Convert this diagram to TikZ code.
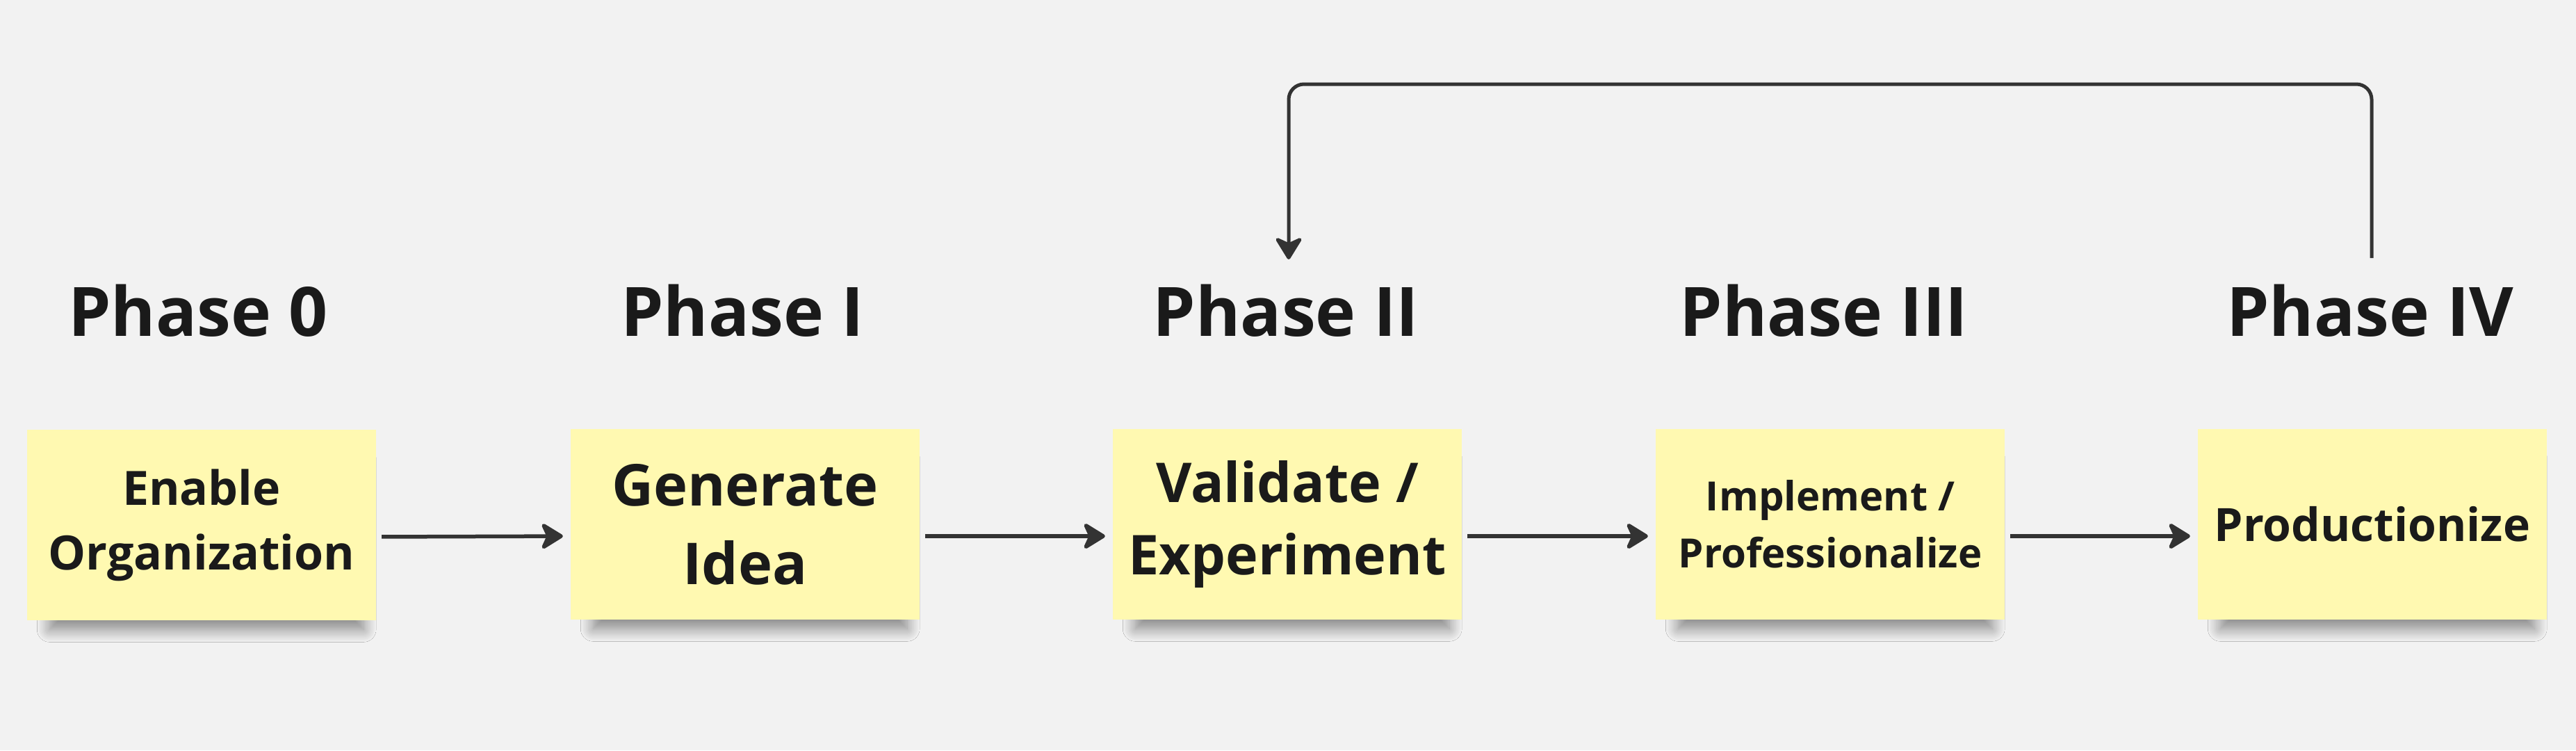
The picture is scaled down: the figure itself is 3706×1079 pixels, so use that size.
\documentclass[tikz,border=0pt]{standalone}
\usepackage{fontspec}
\setmainfont{Open Sans}
\usetikzlibrary{arrows.meta,shadows.blur}
\definecolor{bg}{HTML}{F2F2F2}
\definecolor{sticky}{HTML}{FFF9B1}
\definecolor{ink}{HTML}{1A1A1A}
\definecolor{linec}{HTML}{333333}
\tikzset{
  note/.style={fill=sticky, draw=none, minimum width=502pt, minimum height=274pt,
    inner sep=0pt, align=center, text=ink,
    blur shadow={shadow xshift=8pt, shadow yshift=-30pt, shadow scale=0.9,
      shadow blur radius=20pt, shadow opacity=45, shadow blur steps=16}},
  phase/.style={text=ink, font=\bfseries\fontsize{98}{118}\selectfont, inner sep=0pt, anchor=base},
  conn/.style={draw=linec, line width=5.5pt,
    -{Stealth[length=36pt, width=44pt, inset=10pt, round]}},
  fb/.style={draw=linec, line width=5pt, rounded corners=22pt,
    -{Stealth[length=36pt, width=44pt, inset=10pt, round]}}
}
\begin{document}
\begin{tikzpicture}[x=1pt, y=-1pt]
\useasboundingbox (0,0) rectangle (3706,1079);
\fill[bg] (0,0) rectangle (3706,1079);

% sticky notes
\node[note, font=\bfseries\fontsize{68}{93}\selectfont] (s0) at (290,755) {Enable\\Organization};
\node[note, font=\bfseries\fontsize{83}{113}\selectfont] (s1) at (1072,754) {Generate\\Idea};
\node[note, font=\bfseries\fontsize{79}{104}\selectfont] (s2) at (1852,754) {Validate /\\Experiment};
\node[note, font=\bfseries\fontsize{58}{82}\selectfont] (s3) at (2633,754) {Implement /\\Professionalize};
\node[note, font=\bfseries\fontsize{66}{80}\selectfont] (s4) at (3413,754) {Productionize};

% phase titles
\node[phase] (p0) at (285,483) {Phase 0};
\node[phase] (p1) at (1068,483) {Phase I};
\node[phase] (p2) at (1850,483) {Phase II};
\node[phase] (p3) at (2624,483) {Phase III};
\node[phase] (p4) at (3410,483) {Phase IV};

% connectors
\draw[conn, shorten <=8pt, shorten >=11pt] ([yshift=-17pt]s0.east) -- ([yshift=-17pt]s1.west);
\draw[conn, shorten <=8pt, shorten >=11pt] ([yshift=-17pt]s1.east) -- ([yshift=-17pt]s2.west);
\draw[conn, shorten <=8pt, shorten >=11pt] ([yshift=-17pt]s2.east) -- ([yshift=-17pt]s3.west);
\draw[conn, shorten <=8pt, shorten >=11pt] ([yshift=-17pt]s3.east) -- ([yshift=-17pt]s4.west);

% feedback loop
\coordinate (fbs) at (3412,371);
\coordinate (fbe) at (1854,373);
\coordinate (fbtop) at (2600,121);
\draw[fb] (fbs) -- (fbs |- fbtop) -| (fbe);
\end{tikzpicture}
\end{document}
